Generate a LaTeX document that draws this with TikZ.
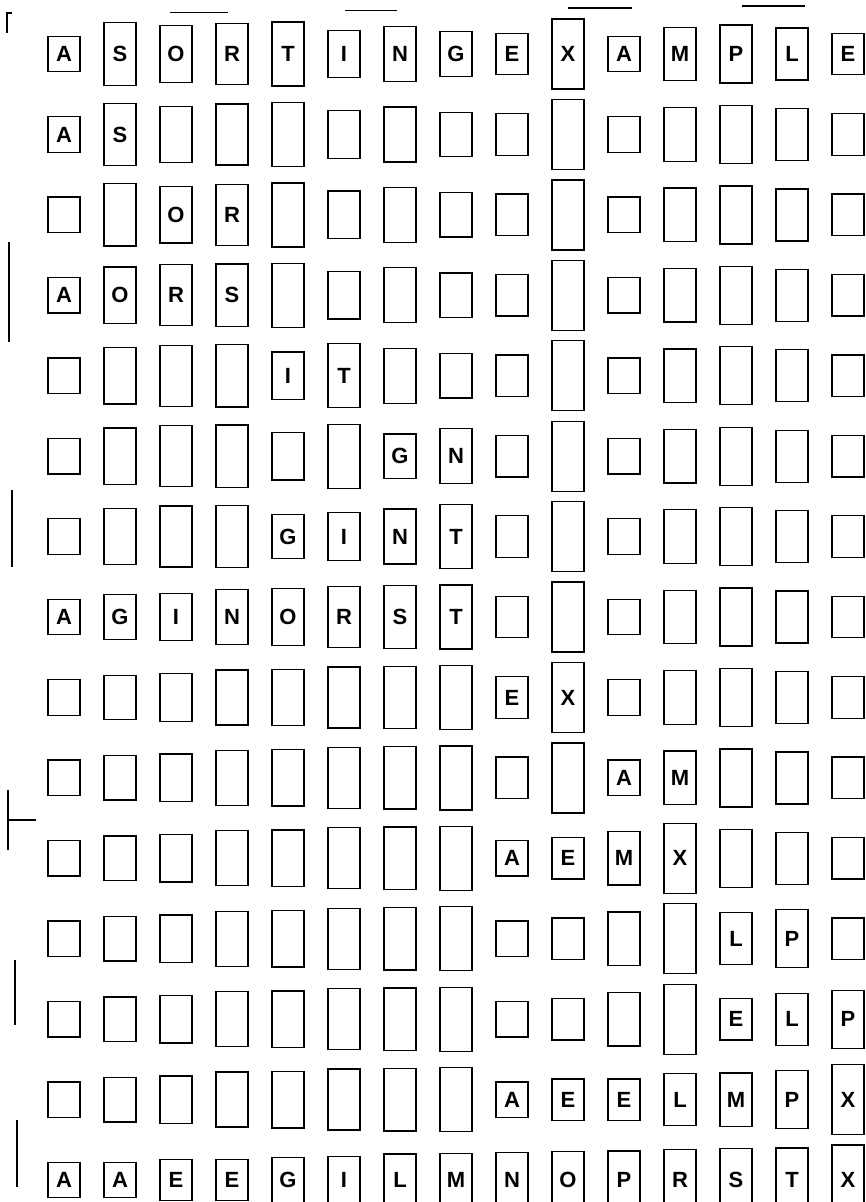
\documentclass[tikz,border=0pt]{standalone}
\usepackage{fontspec}
\setmainfont{Liberation Sans}
\def\vA{1}\def\vE{5}\def\vG{7}\def\vI{9}\def\vL{12}\def\vM{13}\def\vN{14}
\def\vO{15}\def\vP{16}\def\vR{18}\def\vS{19}\def\vT{20}\def\vX{24}
\tikzset{
  box/.style={draw, line width=1.3pt, minimum width=32pt, inner sep=0pt,
    font=\bfseries\fontsize{22}{22}\selectfont},
  stray/.style={line width=1.2pt}
}
\newcommand\mrow[4]{%
  \foreach \ch [count=\j] in {#2} {%
    \pgfmathsetmacro\hh{34+1.5*\csname v\ch\endcsname}%
    \pgfmathsetmacro\xx{64+(\j-1)*56}%
    \pgfmathsetmacro\yy{-(54+(#1-1)*80.43)}%
    \ifnum\j<#3 \def\lbl{}\else\ifnum\j>#4 \def\lbl{}\else\def\lbl{\ch}\fi\fi
    \node[box, minimum height=\hh pt] (b#1-\j) at (\xx pt,\yy pt) {\lbl};
  }}
\begin{document}
\begin{tikzpicture}[x=1pt,y=1pt]
\useasboundingbox (0,0) rectangle (866,-1202);
\mrow{1}{A,S,O,R,T,I,N,G,E,X,A,M,P,L,E}{1}{15}
\mrow{2}{A,S,O,R,T,I,N,G,E,X,A,M,P,L,E}{1}{2}
\mrow{3}{A,S,O,R,T,I,N,G,E,X,A,M,P,L,E}{3}{4}
\mrow{4}{A,O,R,S,T,I,N,G,E,X,A,M,P,L,E}{1}{4}
\mrow{5}{A,O,R,S,I,T,N,G,E,X,A,M,P,L,E}{5}{6}
\mrow{6}{A,O,R,S,I,T,G,N,E,X,A,M,P,L,E}{7}{8}
\mrow{7}{A,O,R,S,G,I,N,T,E,X,A,M,P,L,E}{5}{8}
\mrow{8}{A,G,I,N,O,R,S,T,E,X,A,M,P,L,E}{1}{8}
\mrow{9}{A,G,I,N,O,R,S,T,E,X,A,M,P,L,E}{9}{10}
\mrow{10}{A,G,I,N,O,R,S,T,E,X,A,M,P,L,E}{11}{12}
\mrow{11}{A,G,I,N,O,R,S,T,A,E,M,X,P,L,E}{9}{12}
\mrow{12}{A,G,I,N,O,R,S,T,A,E,M,X,L,P,E}{13}{14}
\mrow{13}{A,G,I,N,O,R,S,T,A,E,M,X,E,L,P}{13}{15}
\mrow{14}{A,G,I,N,O,R,S,T,A,E,E,L,M,P,X}{9}{15}
\mrow{15}{A,A,E,E,G,I,L,M,N,O,P,R,S,T,X}{1}{15}
% stray scan marks
\draw[stray] (12,-13) -- (7,-13) -- (7,-33);
\draw[stray] (170,-12.7) -- (228,-12.7);
\draw[stray] (345,-10.7) -- (397,-10.7);
\draw[stray] (568,-8) -- (632,-8);
\draw[stray] (742,-6) -- (805,-6);
\draw[stray] (9,-242) -- (9,-342);
\draw[stray] (12,-490) -- (12,-567);
\draw[stray] (8,-790) -- (8,-850);
\draw[stray] (8,-820) -- (36,-820);
\draw[stray] (15,-960) -- (15,-1025);
\draw[stray] (17,-1120) -- (17,-1187);
\end{tikzpicture}
\end{document}
